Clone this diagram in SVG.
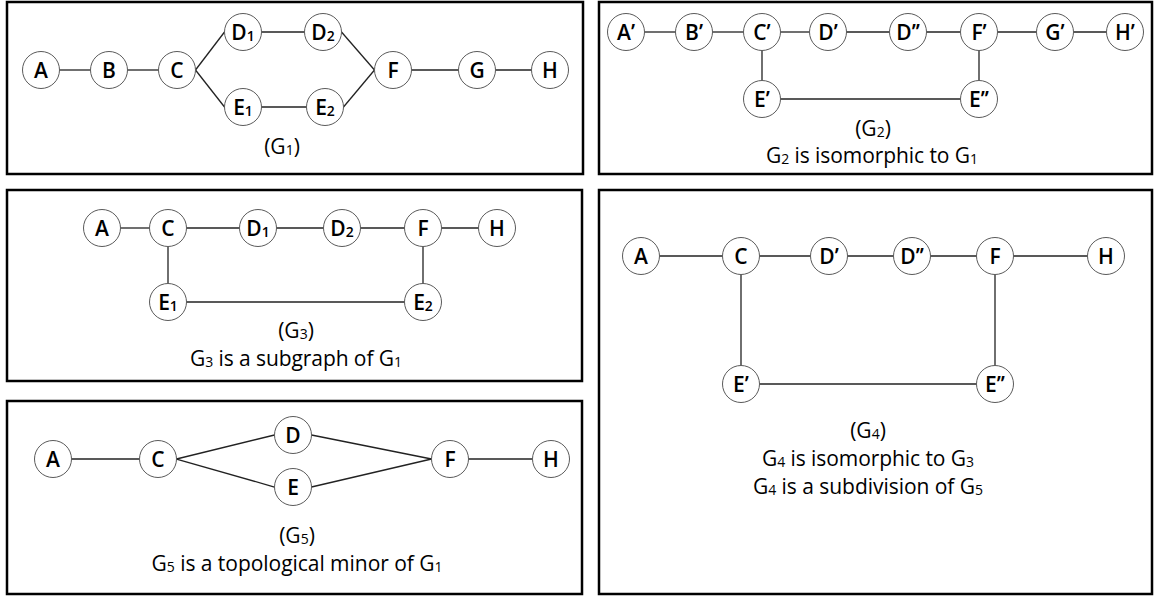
<svg xmlns="http://www.w3.org/2000/svg" width="1154" height="597" viewBox="0 0 1154 597">
<style>
.bg{fill:#fff}
.panel{fill:none;stroke:#000;stroke-width:2.5}
.nd{fill:#fff;stroke:#5a5a5a;stroke-width:1}
.e{stroke:#222;stroke-width:1.3;fill:none}
.n{font-family:"Open Sans","Liberation Sans",sans-serif;font-size:21px;font-weight:600;fill:#000;text-anchor:middle}
.c{font-family:"Open Sans","Liberation Sans",sans-serif;font-size:21px;fill:#000;text-anchor:middle}
.s{font-size:14px}
.cs{font-size:14px}
</style>
<rect class="bg" x="0" y="0" width="1154" height="597"/>
<g id="panels">
<rect class="panel" x="7" y="2" width="576" height="172"/>
<rect class="panel" x="599" y="2" width="553" height="172"/>
<rect class="panel" x="7" y="190" width="575" height="191"/>
<rect class="panel" x="7" y="401" width="575" height="193"/>
<rect class="panel" x="599" y="190" width="553" height="404"/>
</g>
<g id="connectors">
<!-- G1 -->
<line class="e" x1="59.5" y1="70" x2="90.5" y2="70"/>
<line class="e" x1="127.5" y1="70" x2="158.5" y2="70"/>
<line class="e" x1="195.5" y1="70" x2="224.5" y2="32"/>
<line class="e" x1="195.5" y1="70" x2="224.5" y2="107"/>
<line class="e" x1="261.5" y1="32" x2="304.5" y2="32"/>
<line class="e" x1="261.5" y1="107" x2="306.5" y2="107"/>
<line class="e" x1="341.5" y1="32" x2="374.5" y2="70"/>
<line class="e" x1="343.5" y1="107" x2="374.5" y2="70"/>
<line class="e" x1="411.5" y1="70" x2="458.5" y2="70"/>
<line class="e" x1="495.5" y1="70" x2="531.5" y2="70"/>
<!-- G2 -->
<line class="e" x1="644.5" y1="32" x2="675.5" y2="32"/>
<line class="e" x1="712.5" y1="32" x2="743.5" y2="32"/>
<line class="e" x1="780.5" y1="32" x2="809.5" y2="32"/>
<line class="e" x1="846.5" y1="32" x2="889.5" y2="32"/>
<line class="e" x1="926.5" y1="32" x2="960.5" y2="32"/>
<line class="e" x1="997.5" y1="32" x2="1036.5" y2="32"/>
<line class="e" x1="1073.5" y1="32" x2="1106.5" y2="32"/>
<line class="e" x1="762" y1="50.5" x2="762" y2="80.5"/>
<line class="e" x1="979" y1="50.5" x2="979" y2="80.5"/>
<line class="e" x1="780.5" y1="99" x2="960.5" y2="99"/>
<!-- G3 -->
<line class="e" x1="120.5" y1="228" x2="149.5" y2="228"/>
<line class="e" x1="186.5" y1="228" x2="239.5" y2="228"/>
<line class="e" x1="276.5" y1="228" x2="323.5" y2="228"/>
<line class="e" x1="360.5" y1="228" x2="404.5" y2="228"/>
<line class="e" x1="441.5" y1="228" x2="478.5" y2="228"/>
<line class="e" x1="168" y1="246.5" x2="168" y2="283.5"/>
<line class="e" x1="423" y1="246.5" x2="423" y2="283.5"/>
<line class="e" x1="186.5" y1="302" x2="404.5" y2="302"/>
<!-- G4 -->
<line class="e" x1="659.5" y1="256" x2="722.5" y2="256"/>
<line class="e" x1="759.5" y1="256" x2="810.5" y2="256"/>
<line class="e" x1="847.5" y1="256" x2="893.5" y2="256"/>
<line class="e" x1="930.5" y1="256" x2="976.5" y2="256"/>
<line class="e" x1="1013.5" y1="256" x2="1087.5" y2="256"/>
<line class="e" x1="741" y1="274.5" x2="741" y2="365.5"/>
<line class="e" x1="995" y1="274.5" x2="995" y2="365.5"/>
<line class="e" x1="759.5" y1="384" x2="976.5" y2="384"/>
<!-- G5 -->
<line class="e" x1="71.5" y1="459" x2="139.5" y2="459"/>
<line class="e" x1="176.5" y1="459" x2="274.5" y2="435"/>
<line class="e" x1="176.5" y1="459" x2="274.5" y2="487"/>
<line class="e" x1="311.5" y1="435" x2="431.5" y2="459"/>
<line class="e" x1="311.5" y1="487" x2="431.5" y2="459"/>
<line class="e" x1="468.5" y1="459" x2="532.5" y2="459"/>
</g>
<!-- G1 nodes -->
<g id="g1-A"><circle class="nd" cx="41" cy="70" r="18.5"/><text class="n" x="41" y="77.5">A</text></g>
<g id="g1-B"><circle class="nd" cx="109" cy="70" r="18.5"/><text class="n" x="109" y="77.5">B</text></g>
<g id="g1-C"><circle class="nd" cx="177" cy="70" r="18.5"/><text class="n" x="177" y="77.5">C</text></g>
<g id="g1-D1"><circle class="nd" cx="243" cy="32" r="18.5"/><text class="n" x="243" y="39.5">D<tspan class="s" dy="1">1</tspan></text></g>
<g id="g1-D2"><circle class="nd" cx="323" cy="32" r="18.5"/><text class="n" x="323" y="39.5">D<tspan class="s" dy="1">2</tspan></text></g>
<g id="g1-E1"><circle class="nd" cx="243" cy="107" r="18.5"/><text class="n" x="243" y="114.5">E<tspan class="s" dy="1">1</tspan></text></g>
<g id="g1-E2"><circle class="nd" cx="325" cy="107" r="18.5"/><text class="n" x="325" y="114.5">E<tspan class="s" dy="1">2</tspan></text></g>
<g id="g1-F"><circle class="nd" cx="393" cy="70" r="18.5"/><text class="n" x="393" y="77.5">F</text></g>
<g id="g1-G"><circle class="nd" cx="477" cy="70" r="18.5"/><text class="n" x="477" y="77.5">G</text></g>
<g id="g1-H"><circle class="nd" cx="550" cy="70" r="18.5"/><text class="n" x="550" y="77.5">H</text></g>
<g id="g1-label"><text class="c" x="282" y="154">(G<tspan class="cs" dy="1">1</tspan><tspan dy="-1">)</tspan></text></g>
<!-- G2 nodes -->
<g id="g2-A"><circle class="nd" cx="626" cy="32" r="18.5"/><text class="n" x="626" y="39.5">A’</text></g>
<g id="g2-B"><circle class="nd" cx="694" cy="32" r="18.5"/><text class="n" x="694" y="39.5">B’</text></g>
<g id="g2-C"><circle class="nd" cx="762" cy="32" r="18.5"/><text class="n" x="762" y="39.5">C’</text></g>
<g id="g2-D1"><circle class="nd" cx="828" cy="32" r="18.5"/><text class="n" x="828" y="39.5">D’</text></g>
<g id="g2-D2"><circle class="nd" cx="908" cy="32" r="18.5"/><text class="n" x="908" y="39.5">D’’</text></g>
<g id="g2-F"><circle class="nd" cx="979" cy="32" r="18.5"/><text class="n" x="979" y="39.5">F’</text></g>
<g id="g2-G"><circle class="nd" cx="1055" cy="32" r="18.5"/><text class="n" x="1055" y="39.5">G’</text></g>
<g id="g2-H"><circle class="nd" cx="1125" cy="32" r="18.5"/><text class="n" x="1125" y="39.5">H’</text></g>
<g id="g2-E1"><circle class="nd" cx="762" cy="99" r="18.5"/><text class="n" x="762" y="106.5">E’</text></g>
<g id="g2-E2"><circle class="nd" cx="979" cy="99" r="18.5"/><text class="n" x="979" y="106.5">E’’</text></g>
<g id="g2-label">
<text class="c" x="873" y="136">(G<tspan class="cs" dy="1">2</tspan><tspan dy="-1">)</tspan></text>
<text class="c" x="872" y="163" textLength="212">G<tspan class="cs" dy="1">2</tspan><tspan dy="-1"> is isomorphic to G</tspan><tspan class="cs" dy="1">1</tspan></text>
</g>
<!-- G3 nodes -->
<g id="g3-A"><circle class="nd" cx="102" cy="228" r="18.5"/><text class="n" x="102" y="235.5">A</text></g>
<g id="g3-C"><circle class="nd" cx="168" cy="228" r="18.5"/><text class="n" x="168" y="235.5">C</text></g>
<g id="g3-D1"><circle class="nd" cx="258" cy="228" r="18.5"/><text class="n" x="258" y="235.5">D<tspan class="s" dy="1">1</tspan></text></g>
<g id="g3-D2"><circle class="nd" cx="342" cy="228" r="18.5"/><text class="n" x="342" y="235.5">D<tspan class="s" dy="1">2</tspan></text></g>
<g id="g3-F"><circle class="nd" cx="423" cy="228" r="18.5"/><text class="n" x="423" y="235.5">F</text></g>
<g id="g3-H"><circle class="nd" cx="497" cy="228" r="18.5"/><text class="n" x="497" y="235.5">H</text></g>
<g id="g3-E1"><circle class="nd" cx="168" cy="302" r="18.5"/><text class="n" x="168" y="309.5">E<tspan class="s" dy="1">1</tspan></text></g>
<g id="g3-E2"><circle class="nd" cx="423" cy="302" r="18.5"/><text class="n" x="423" y="309.5">E<tspan class="s" dy="1">2</tspan></text></g>
<g id="g3-label">
<text class="c" x="296" y="338">(G<tspan class="cs" dy="1">3</tspan><tspan dy="-1">)</tspan></text>
<text class="c" x="296" y="366" textLength="212">G<tspan class="cs" dy="1">3</tspan><tspan dy="-1"> is a subgraph of G</tspan><tspan class="cs" dy="1">1</tspan></text>
</g>
<!-- G4 nodes -->
<g id="g4-A"><circle class="nd" cx="641" cy="256" r="18.5"/><text class="n" x="641" y="263.5">A</text></g>
<g id="g4-C"><circle class="nd" cx="741" cy="256" r="18.5"/><text class="n" x="741" y="263.5">C</text></g>
<g id="g4-D1"><circle class="nd" cx="829" cy="256" r="18.5"/><text class="n" x="829" y="263.5">D’</text></g>
<g id="g4-D2"><circle class="nd" cx="912" cy="256" r="18.5"/><text class="n" x="912" y="263.5">D’’</text></g>
<g id="g4-F"><circle class="nd" cx="995" cy="256" r="18.5"/><text class="n" x="995" y="263.5">F</text></g>
<g id="g4-H"><circle class="nd" cx="1106" cy="256" r="18.5"/><text class="n" x="1106" y="263.5">H</text></g>
<g id="g4-E1"><circle class="nd" cx="741" cy="384" r="18.5"/><text class="n" x="741" y="391.5">E’</text></g>
<g id="g4-E2"><circle class="nd" cx="995" cy="384" r="18.5"/><text class="n" x="995" y="391.5">E’’</text></g>
<g id="g4-label">
<text class="c" x="868" y="438">(G<tspan class="cs" dy="1">4</tspan><tspan dy="-1">)</tspan></text>
<text class="c" x="868" y="466" textLength="212">G<tspan class="cs" dy="1">4</tspan><tspan dy="-1"> is isomorphic to G</tspan><tspan class="cs" dy="1">3</tspan></text>
<text class="c" x="868" y="494" textLength="230">G<tspan class="cs" dy="1">4</tspan><tspan dy="-1"> is a subdivision of G</tspan><tspan class="cs" dy="1">5</tspan></text>
</g>
<!-- G5 nodes -->
<g id="g5-A"><circle class="nd" cx="53" cy="459" r="18.5"/><text class="n" x="53" y="466.5">A</text></g>
<g id="g5-C"><circle class="nd" cx="158" cy="459" r="18.5"/><text class="n" x="158" y="466.5">C</text></g>
<g id="g5-D"><circle class="nd" cx="293" cy="435" r="18.5"/><text class="n" x="293" y="442.5">D</text></g>
<g id="g5-E"><circle class="nd" cx="293" cy="487" r="18.5"/><text class="n" x="293" y="494.5">E</text></g>
<g id="g5-F"><circle class="nd" cx="450" cy="459" r="18.5"/><text class="n" x="450" y="466.5">F</text></g>
<g id="g5-H"><circle class="nd" cx="551" cy="459" r="18.5"/><text class="n" x="551" y="466.5">H</text></g>
<g id="g5-label">
<text class="c" x="297" y="543">(G<tspan class="cs" dy="1">5</tspan><tspan dy="-1">)</tspan></text>
<text class="c" x="297" y="571" textLength="291">G<tspan class="cs" dy="1">5</tspan><tspan dy="-1"> is a topological minor of G</tspan><tspan class="cs" dy="1">1</tspan></text>
</g>
</svg>
